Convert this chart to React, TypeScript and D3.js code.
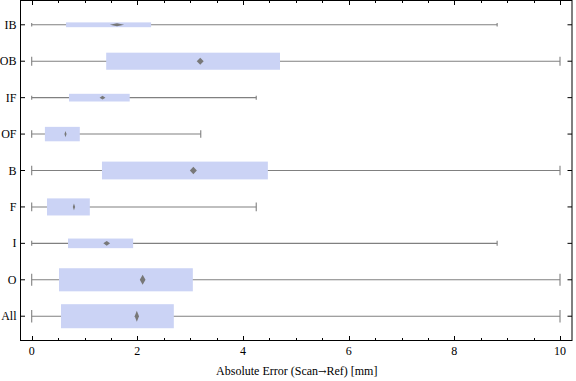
import React from "react";
import * as d3 from "d3";

// Data (listed top-to-bottom)
const categories = ["IB", "OB", "IF", "OF", "B", "F", "I", "O", "All"];
const minValues = [0, 0, 0, 0, 0, 0, 0, 0, 0];
const q1Values = [0.65, 1.41, 0.706, 0.25, 1.33, 0.29, 0.687, 0.517, 0.555];
const q3Values = [2.26, 4.7, 1.855, 0.91, 4.47, 1.1, 1.92, 3.05, 2.69];
const maxValues = [8.81, 10, 4.25, 3.2, 10, 4.25, 8.81, 10, 10];
const meanValues = [1.615, 3.19, 1.34, 0.64, 3.06, 0.8, 1.42, 2.1, 1.99];
// relative sample weight (controls box thickness)
const weights = [0.2, 0.71, 0.32, 0.6, 0.74, 0.71, 0.4, 0.96, 1.0];
// mean marker spread (data units, half-width) and relative marker height
const meanSpread = [0.135, 0.066, 0.055, 0.02, 0.066, 0.022, 0.064, 0.054, 0.041];
const meanWeight = [0.27, 0.64, 0.34, 0.57, 0.66, 0.61, 0.45, 0.9, 1.0];
const xTicks = [0, 2, 4, 6, 8, 10];
const xLabelParts = ["Absolute Error (Scan", "\u2192", "Ref) [mm]"];

const W = 576;
const H = 381;
const left = 20.5;
const right = 572;
const top = 0.5;
const bottom = 340.5;

export default function App() {
  const x = d3.scaleLinear().domain([-0.212, 10.227]).range([left, right]);
  const n = categories.length;
  const y = d3.scaleLinear().domain([1 / 3, n + 2 / 3]).range([bottom, top]);
  const step = Math.abs(y(1) - y(2));
  const maxBox = step * 0.66;
  const maxMarkerH = 11;

  const minorTicks = d3.range(0, 10.001, 0.5);
  const font = "'Liberation Serif', 'Times New Roman', serif";
  const whisk = "#808080";
  const boxFill = "#cbd3f5";
  const markFill = "#787878";

  return (
    <svg
      width={W}
      height={H}
      style={{ position: "absolute", left: 0, top: 0, display: "block" }}
      fontFamily={font}
      fontSize={12}
    >
      <rect x={0} y={0} width={W} height={H} fill="#fff" />
      {categories.map((c, i) => {
        const yc = y(n - i);
        const bh = weights[i] * maxBox;
        const capH = Math.max(3.6, bh * 0.52);
        const mh = meanWeight[i] * maxMarkerH;
        const mx = x(meanValues[i]);
        const mw = x(meanValues[i] + meanSpread[i]) - mx;
        return (
          <g key={c}>
            <line x1={x(minValues[i])} x2={x(maxValues[i])} y1={yc} y2={yc} stroke={whisk} strokeWidth={1.1} />
            <line x1={x(minValues[i])} x2={x(minValues[i])} y1={yc - capH / 2} y2={yc + capH / 2} stroke={whisk} strokeWidth={1.1} />
            <line x1={x(maxValues[i])} x2={x(maxValues[i])} y1={yc - capH / 2} y2={yc + capH / 2} stroke={whisk} strokeWidth={1.1} />
            <rect
              x={x(q1Values[i])}
              y={yc - bh / 2}
              width={x(q3Values[i]) - x(q1Values[i])}
              height={bh}
              fill={boxFill}
            />
            <path
              d={`M${mx - mw},${yc} L${mx},${yc - mh / 2} L${mx + mw},${yc} L${mx},${yc + mh / 2} Z`}
              fill={markFill}
            />
            <line x1={left} x2={left + 4.5} y1={yc} y2={yc} stroke="#000" />
            <line x1={right - 4.5} x2={right} y1={yc} y2={yc} stroke="#000" />
            <text x={16.5} y={yc + 4} textAnchor="end" fill="#000">
              {c}
            </text>
          </g>
        );
      })}
      {minorTicks.map((t) => {
        const major = Math.abs(t / 2 - Math.round(t / 2)) < 1e-6;
        const len = major ? 4.5 : 2.5;
        const xx = Math.round(x(t)) + 0.5;
        return (
          <g key={t}>
            <line x1={xx} x2={xx} y1={bottom} y2={bottom - len} stroke="#000" />
            <line x1={xx} x2={xx} y1={top} y2={top + len} stroke="#000" />
          </g>
        );
      })}
      {xTicks.map((t) => (
        <text key={t} x={x(t)} y={355} textAnchor="middle" fill="#000">
          {t}
        </text>
      ))}
      <rect x={left} y={top} width={right - left} height={bottom - top} fill="none" stroke="#000" strokeWidth={1} />
      <text x={(left + right) / 2 + 0.5} y={375} textAnchor="middle" fill="#000">
        <tspan>{xLabelParts[0]}</tspan>
        <tspan fontFamily="'DejaVu Serif', serif" fontSize={10}>{xLabelParts[1]}</tspan>
        <tspan>{xLabelParts[2]}</tspan>
      </text>
    </svg>
  );
}
